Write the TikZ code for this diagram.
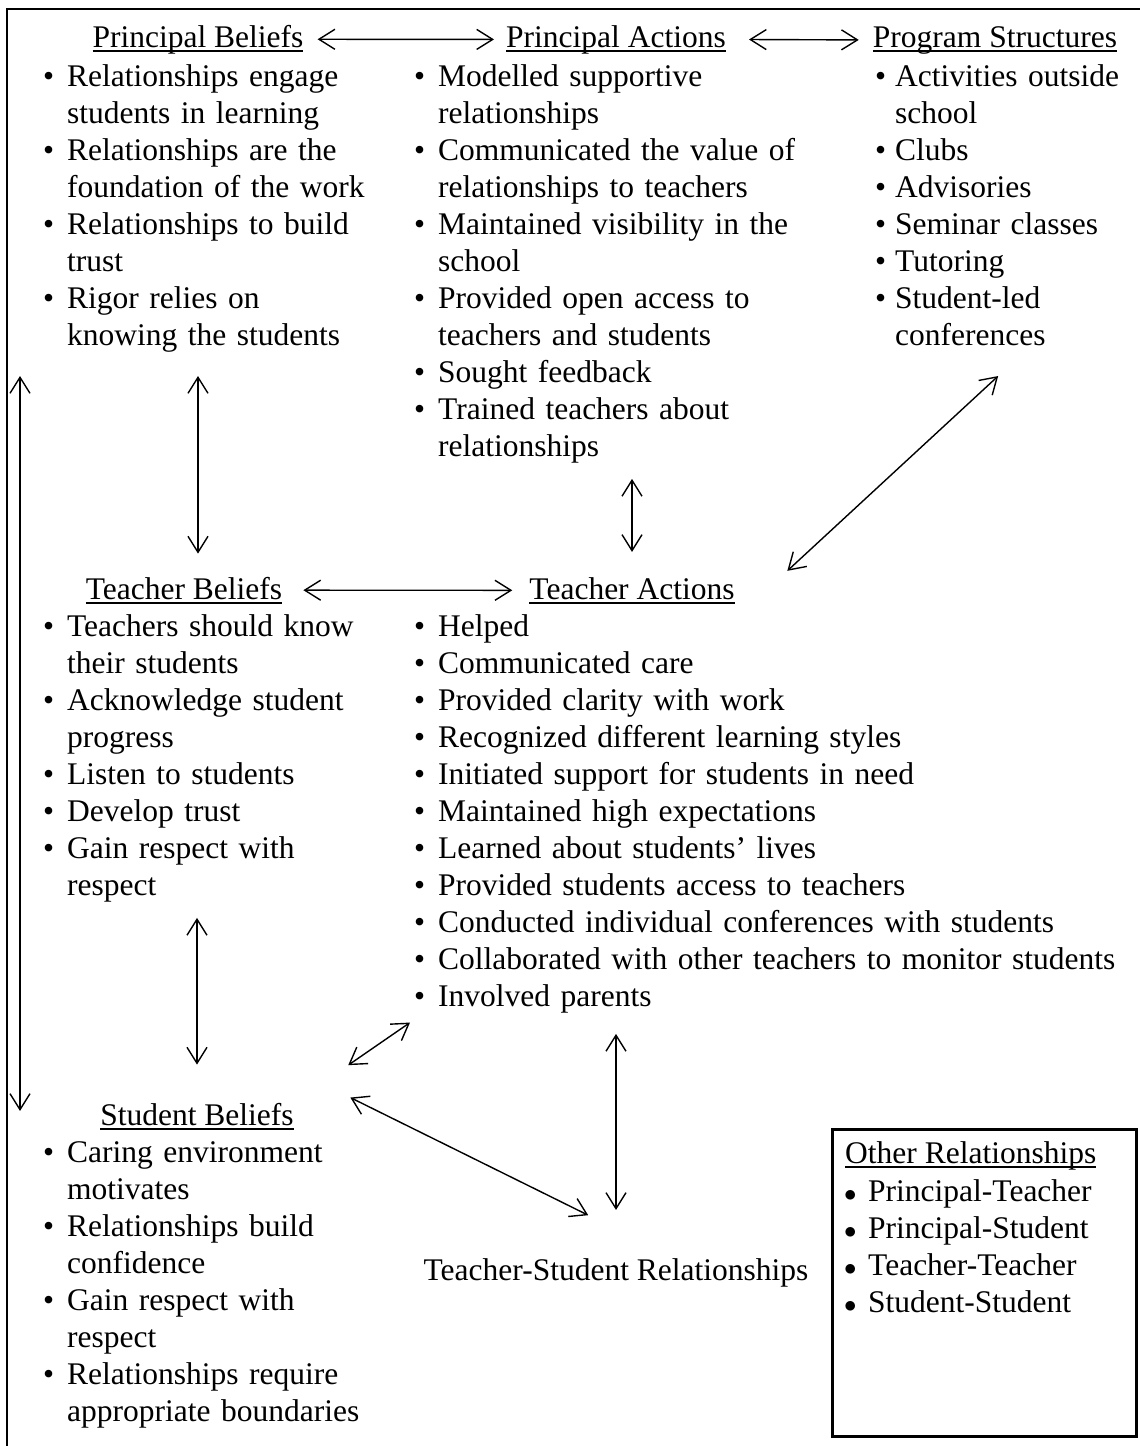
\documentclass[tikz,border=0pt]{standalone}
\usepackage{fontspec}
\setmainfont{Liberation Serif}
\usetikzlibrary{arrows.meta}

\newlength{\bind}
\setlength{\bind}{24pt}
\newcommand{\itm}[1]{\makebox[\bind][l]{\textbullet}#1}
\newcommand{\cnt}[1]{\hspace*{\bind}#1}
\newcommand{\oitm}[1]{\makebox[24pt][l]{$\bullet$}#1}
\newcommand{\uln}[1]{\setbox0\hbox{#1}\rlap{\rule[-4.5pt]{\wd0}{1.8pt}}\box0}

\begin{document}
\begin{tikzpicture}[x=1pt,y=-1pt,
      head/.style={inner sep=0pt,anchor=base},
      lst/.style={inner sep=0pt,anchor=base west,align=left,text width=#1},
      arr/.style={<->,>={Straight Barb[length=16pt,width=20pt]},line width=1.4pt}
      ]
      \fontsize{31.5}{37}\selectfont
      \useasboundingbox (0,0) rectangle (1140,1446);
      \draw[line width=2pt] (1160,9) -- (7,9) -- (7,1460);
      \node (pb) [head] at (198,47) {\uln{Principal Beliefs}};
      \node (pa) [head] at (616,47) {\uln{Principal Actions}};
      \node (ps) [head] at (995,47) {\uln{Program Structures}};
      \node (pbl) [lst=380pt] at (43,86) {\itm{Relationships engage}\\ \cnt{students in learning}\\
        \itm{Relationships are the}\\ \cnt{foundation of the work}\\ \itm{Relationships to build}\\
        \cnt{trust}\\ \itm{Rigor relies on}\\ \cnt{knowing the students}};
      \node (pal) [lst=436pt] at (414,86) {\itm{Modelled supportive}\\ \cnt{relationships}\\
        \itm{Communicated the value of}\\ \cnt{relationships to teachers}\\
        \itm{Maintained visibility in the}\\ \cnt{school}\\ \itm{Provided open access to}\\
        \cnt{teachers and students}\\ \itm{Sought feedback}\\ \itm{Trained teachers about}\\
        \cnt{relationships}};
      \node (psl) [lst=312pt] at (875,86) {\setlength{\bind}{20pt}\itm{Activities outside}\\ \cnt{school}\\
        \itm{Clubs}\\ \itm{Advisories}\\ \itm{Seminar classes}\\ \itm{Tutoring}\\
        \itm{Student-led}\\ \cnt{conferences}};
      \node (tb) [head] at (184,599) {\uln{Teacher Beliefs}};
      \node (ta) [head] at (632,599) {\uln{Teacher Actions}};
      \node (tbl) [lst=380pt] at (43,636) {\itm{Teachers should know}\\ \cnt{their students}\\
        \itm{Acknowledge student}\\ \cnt{progress}\\ \itm{Listen to students}\\
        \itm{Develop trust}\\ \itm{Gain respect with}\\ \cnt{respect}};
      \node (tal) [lst=800pt] at (414,636) {\itm{Helped}\\ \itm{Communicated care}\\
        \itm{Provided clarity with work}\\ \itm{Recognized different learning styles}\\
        \itm{Initiated support for students in need}\\ \itm{Maintained high expectations}\\
        \itm{Learned about students’ lives}\\ \itm{Provided students access to teachers}\\
        \itm{Conducted individual conferences with students}\\
        \itm{Collaborated with other teachers to monitor students}\\ \itm{Involved parents}};
      \node (sb) [head] at (197,1125) {\uln{Student Beliefs}};
      \node (sbl) [lst=380pt] at (43,1162) {\itm{Caring environment}\\ \cnt{motivates}\\
        \itm{Relationships build}\\ \cnt{confidence}\\ \itm{Gain respect with}\\ \cnt{respect}\\
        \itm{Relationships require}\\ \cnt{appropriate boundaries}};
      \node (tsr) [head] at (616,1280) {Teacher-Student Relationships};
      \node (orb) [draw,line width=3pt,anchor=north west,inner sep=0pt,
        minimum width=304pt,minimum height=307pt] at (831,1128) {};
      \node (or) [head,anchor=base west] at (845,1163) {\uln{Other Relationships}};
      \node (orl) [lst=280pt] at (844,1201) {\oitm{Principal-Teacher}\\ \oitm{Principal-Student}\\
        \oitm{Teacher-Teacher}\\ \oitm{Student-Student}};
      \draw[arr,shorten <=14pt,shorten >=12pt] (pb.east) -- (pa.west);
      \draw[arr,shorten <=23pt,shorten >=14pt] (pa.east) -- (ps.west);
      \draw[arr,shorten <=24pt,shorten >=23pt] (pb |- pbl.south) -- (pb |- tb.north);
      \draw[arr,shorten <=16pt,shorten >=25pt] (ta |- pal.south) -- (ta.north);
      \draw[arr,shorten <=45pt,shorten >=9pt] (psl.south) -- ([xshift=46pt]ta.north east);
      \draw[arr,shorten <=21pt,shorten >=17pt] (tb.east) -- (ta.west);
      \draw[arr,shorten <=16pt,shorten >=38pt] (sb |- tbl.south) -- (sb.north);
      \draw[arr,shorten <=17pt,shorten >=66pt] ([xshift=10pt]tal.south west) -- (sb.north east);
      \draw[arr,shorten <=63pt,shorten >=31pt] ([yshift=33pt]sb.north east) -- ([yshift=29pt]tsr.north);
      \draw[arr,shorten <=21pt,shorten >=48pt] (tsr |- tal.south) -- (tsr.north);
      \draw[arr,shorten <=24pt,shorten >=30pt] ([xshift=-23pt]pbl.south west) -- ([xshift=-23pt]sbl.north west);
    \end{tikzpicture}
\end{document}
